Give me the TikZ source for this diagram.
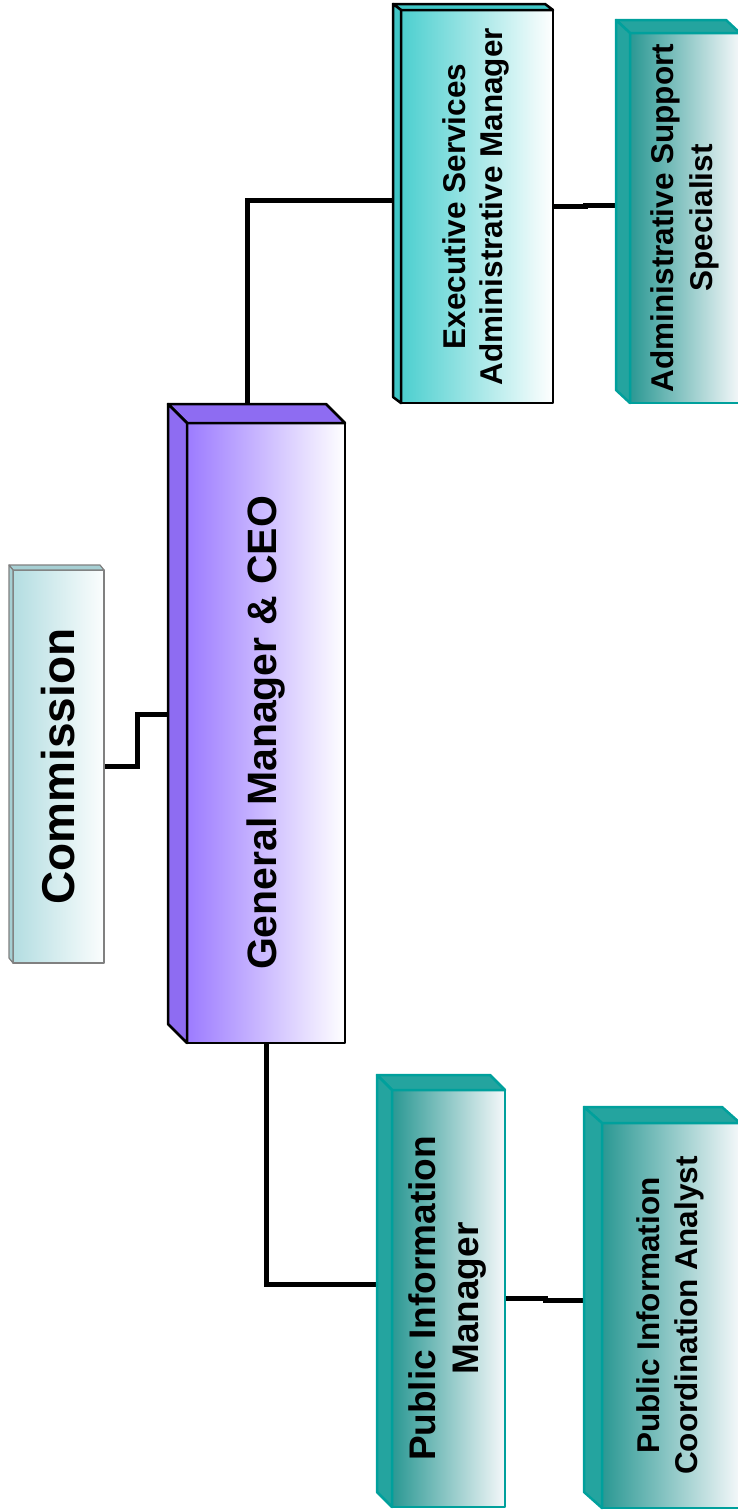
\documentclass[tikz,border=0pt]{standalone}
\usepackage{fontspec}
\setmainfont{Liberation Sans}
\usetikzlibrary{calc,backgrounds}

\definecolor{comfill}{HTML}{B3DDE1}
\definecolor{comside}{HTML}{A6CFD3}
\definecolor{gmfill}{HTML}{9C7BFF}
\definecolor{gmside}{HTML}{8E6CF2}
\definecolor{exfill}{HTML}{4CCFCF}
\definecolor{exside}{HTML}{40C6C6}
\definecolor{tlfill}{HTML}{2A9893}
\definecolor{tlside}{HTML}{24A49F}
\definecolor{tlline}{HTML}{00A09C}
\definecolor{tlwhite}{HTML}{F5F8FA}

\tikzset{
  orgbox/.style={rectangle, inner sep=0pt, outer sep=0pt, line join=round, font=\bfseries},
  combox/.style={orgbox, draw=gray, line width=1.2pt, left color=comfill, right color=white!95!comfill},
  gmbox/.style={orgbox, draw=black, line width=2.5pt, left color=gmfill, middle color=gmfill!30, right color=white},
  exbox/.style={orgbox, draw=black, line width=2.5pt, left color=exfill, middle color=exfill!35, right color=white},
  tlbox/.style={orgbox, draw=tlline, line width=2.5pt, left color=tlfill, middle color=tlfill!30!tlwhite, right color=tlwhite},
  link/.style={line width=5pt, line join=miter}
}

% side and top faces of a box: node, dx, dy, style
\newcommand{\boxfaces}[4]{%
  \filldraw[#4] (#1.north west) -- ++(-#2,-#3) -- ($(#1.north east)+(-#2,-#3)$) -- (#1.north east) -- cycle;
  \filldraw[#4] (#1.north west) -- ++(-#2,-#3) -- ($(#1.south west)+(-#2,-#3)$) -- (#1.south west) -- cycle;
}

\begin{document}
\begin{tikzpicture}[x=1pt,y=-1pt]
  \useasboundingbox (0,0) rectangle (738,1510);
  \clip (0,0) rectangle (738,1510);

  % boxes
  \node[combox, minimum width=91pt, minimum height=393pt] (com) at (58.5,766.5)
    {\rotatebox{90}{\fontsize{46}{50}\selectfont Commission}};
  \node[gmbox, minimum width=158pt, minimum height=620pt] (gm) at (266,733)
    {\rotatebox{90}{\fontsize{41}{45}\selectfont General Manager \& CEO}};
  \node[exbox, minimum width=152pt, minimum height=393pt] (ex) at (477,206.5)
    {\rotatebox{90}{\fontsize{31.5}{37}\selectfont\begin{tabular}{@{}c@{}}Executive Services\\Administrative Manager\end{tabular}}};
  \node[tlbox, minimum width=110pt, minimum height=370pt] (adm) at (685,218)
    {\rotatebox{90}{\fontsize{31.5}{39}\selectfont\begin{tabular}{@{}c@{}}Administrative Support\\Specialist\end{tabular}}};
  \node[tlbox, minimum width=113pt, minimum height=417pt] (pim) at (448.5,1298.5)
    {\rotatebox{90}{\fontsize{37}{43}\selectfont\begin{tabular}{@{}c@{}}Public Information\\Manager\end{tabular}}};
  \node[tlbox, minimum width=138pt, minimum height=385pt] (pica) at (671,1315.5)
    {\rotatebox{90}{\fontsize{31.5}{38}\selectfont\begin{tabular}{@{}c@{}}Public Information\\Coordination Analyst\end{tabular}}};

  \boxfaces{com}{4}{5}{fill=comside, draw=gray, line width=1.2pt, line join=round}
  \boxfaces{gm}{19}{19}{fill=gmside, draw=black, line width=2.5pt, line join=round}
  \boxfaces{ex}{8}{6}{fill=exside, draw=black, line width=2.5pt, line join=round}
  \boxfaces{adm}{14}{13}{fill=tlside, draw=tlline, line width=2.5pt, line join=round}
  \boxfaces{pim}{15}{15}{fill=tlside, draw=tlline, line width=2.5pt, line join=round}
  \boxfaces{pica}{18}{16}{fill=tlside, draw=tlline, line width=2.5pt, line join=round}

  % connectors
  \begin{scope}[on background layer]
    \draw[link] (com.east) -- ++(33,0) |- ([yshift=19pt]gm.west);
    \draw[link] ([xshift=-19pt]gm.north) |- ([yshift=6pt]ex.west);
    \draw[link] (gm.south) |- ([yshift=14pt]pim.west);
    \draw[link] (ex.east) -- ++(32,0) |- ([yshift=13pt]adm.west);
    \draw[link] (pim.east) -- ++(40,0) |- ([yshift=15pt]pica.west);
  \end{scope}
\end{tikzpicture}
\end{document}
